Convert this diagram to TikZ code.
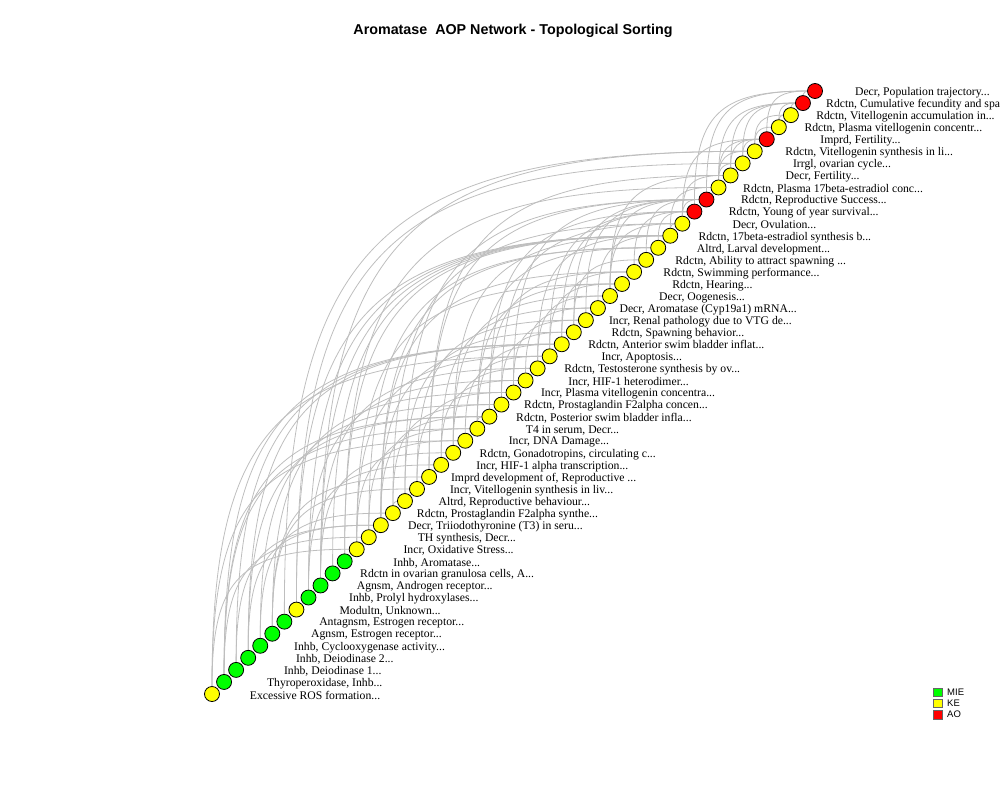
\documentclass[tikz,border=0pt]{standalone}
\usepackage{fontspec}
\setmainfont{Liberation Serif}
\setsansfont{Liberation Sans}
\usetikzlibrary{positioning}
\usetikzlibrary{calc}
\usetikzlibrary{backgrounds}
\definecolor{mie}{RGB}{0,255,0}
\definecolor{ke}{RGB}{255,255,0}
\definecolor{ao}{RGB}{255,0,0}
\definecolor{linkgray}{RGB}{190,190,190}

\begin{document}
\begin{tikzpicture}[x=1pt, y=-1pt,
    vtx/.style={circle, draw=black, line width=0.8pt, minimum size=15pt, inner sep=0pt},
    vlabel/.style={font=\fontsize{11.7}{12}\selectfont, inner sep=0pt},
    kerlink/.style={draw=linkgray, line width=0.8pt},
    keybox/.style={draw=black!60, line width=0.5pt, minimum size=8.5pt, inner sep=0pt},
    keytext/.style={font=\sffamily\fontsize{9.5}{10}\selectfont, inner sep=0pt}]
    \useasboundingbox (0,0) rectangle (1000,800);

    \node[font=\sffamily\bfseries\fontsize{14.3}{16}\selectfont] (title) at (513,31) {Aromatase\ \ AOP Network - Topological Sorting};

    % events in topological order, label pushed right by log of its length
    \foreach \i/\col/\n/\txt in {
        1/ke/26/{Excessive ROS formation...},
        2/mie/24/{Thyroperoxidase, Inhb...},
        3/mie/21/{Inhb, Deiodinase 1...},
        4/mie/21/{Inhb, Deiodinase 2...},
        5/mie/32/{Inhb, Cyclooxygenase activity...},
        6/mie/27/{Agnsm, Estrogen receptor...},
        7/mie/30/{Antagnsm, Estrogen receptor...},
        8/ke/19/{Modultn, Unknown...},
        9/mie/28/{Inhb, Prolyl hydroxylases...},
        10/mie/27/{Agnsm, Androgen receptor...},
        11/mie/38/{Rdctn in ovarian granulosa cells, A...},
        12/mie/18/{Inhb, Aromatase...},
        13/ke/25/{Incr, Oxidative Stress...},
        14/ke/22/{TH synthesis, Decr...},
        15/ke/38/{Decr, Triiodothyronine (T3) in seru...},
        16/ke/38/{Rdctn, Prostaglandin F2alpha synthe...},
        17/ke/32/{Altrd, Reproductive behaviour...},
        18/ke/38/{Incr, Vitellogenin synthesis in liv...},
        19/ke/38/{Imprd development of, Reproductive ...},
        20/ke/34/{Incr, HIF-1 alpha transcription...},
        21/ke/38/{Rdctn, Gonadotropins, circulating c...},
        22/ke/19/{Incr, DNA Damage...},
        23/ke/20/{T4 in serum, Decr...},
        24/ke/38/{Rdctn, Posterior swim bladder infla...},
        25/ke/38/{Rdctn, Prostaglandin F2alpha concen...},
        26/ke/38/{Incr, Plasma vitellogenin concentra...},
        27/ke/26/{Incr, HIF-1 heterodimer...},
        28/ke/38/{Rdctn, Testosterone synthesis by ov...},
        29/ke/18/{Incr, Apoptosis...},
        30/ke/38/{Rdctn, Anterior swim bladder inflat...},
        31/ke/27/{Rdctn, Spawning behavior...},
        32/ke/38/{Incr, Renal pathology due to VTG de...},
        33/ke/33/{Decr, Aromatase (Cyp19a1) mRNA...},
        34/ke/18/{Decr, Oogenesis...},
        35/ke/17/{Rdctn, Hearing...},
        36/ke/30/{Rdctn, Swimming performance...},
        37/ke/38/{Rdctn, Ability to attract spawning ...},
        38/ke/28/{Altrd, Larval development...},
        39/ke/38/{Rdctn, 17beta-estradiol synthesis b...},
        40/ke/18/{Decr, Ovulation...},
        41/ao/32/{Rdctn, Young of year survival...},
        42/ao/30/{Rdctn, Reproductive Success...},
        43/ke/38/{Rdctn, Plasma 17beta-estradiol conc...},
        44/ke/18/{Decr, Fertility...},
        45/ke/23/{Irrgl, ovarian cycle...},
        46/ke/38/{Rdctn, Vitellogenin synthesis in li...},
        47/ao/19/{Imprd, Fertility...},
        48/ke/38/{Rdctn, Plasma vitellogenin concentr...},
        49/ke/38/{Rdctn, Vitellogenin accumulation in...},
        50/ao/38/{Rdctn, Cumulative fecundity and spa...},
        51/ao/30/{Decr, Population trajectory...}}{
        \node[vtx, fill=\col] (n\i) at ({212+(\i-1)*12.06},{694-(\i-1)*12.06}) {};
        \node[vlabel] (l\i) at ($(n\i)+({72*log10(\n+1)},1.5)$) {\txt};
    }

    % key event relationships, bent up and over
    \begin{scope}[on background layer]
    \foreach \s/\t in {1/13, 1/22, 1/29, 13/22, 13/29, 22/29, 29/35, 13/35,
        2/14, 2/23, 2/24, 2/30, 14/23, 23/24, 23/30, 23/35, 23/38, 14/38,
        3/15, 3/30, 4/15, 4/24, 4/30, 15/24, 15/30, 15/38, 24/36, 30/36,
        36/41, 24/41, 30/41, 38/41, 15/36,
        5/16, 5/25, 16/25, 16/17, 17/31, 25/31, 25/40, 16/40, 31/37, 37/42,
        17/42, 31/42, 40/44, 40/42, 44/47, 40/47,
        6/18, 6/19, 6/26, 18/26, 18/32, 26/32, 32/42, 19/42, 26/42, 19/44,
        7/46, 10/46, 46/48, 48/49, 49/50, 50/51, 46/49, 48/50,
        8/39, 8/45, 45/47,
        9/20, 9/27, 9/39, 20/27, 20/33, 27/33, 33/39,
        10/21, 10/28, 10/39, 21/28, 21/34, 21/39, 28/39, 28/34,
        11/39, 12/39, 12/43,
        39/43, 39/40, 43/46, 43/45, 43/47, 43/50, 34/40, 34/44, 34/42,
        44/50, 45/50, 41/51, 42/51, 47/51, 29/41}
        \draw[kerlink] (n\s) .. controls ($(n\s)!0.8!(n\s |- n\t)$) and ($(n\t)!0.8!(n\s |- n\t)$) .. (n\t);
    \end{scope}

    % legend
    \node[keybox, fill=mie] (kmie) at (937.5,692) {};
    \node[keybox, fill=ke] (kke) at (937.5,703.3) {};
    \node[keybox, fill=ao] (kao) at (937.5,714.6) {};
    \node[keytext, right=5pt of kmie] (tmie) {MIE};
    \node[keytext, right=5pt of kke] (tke) {KE};
    \node[keytext, right=5pt of kao] (tao) {AO};
\end{tikzpicture}
\end{document}
